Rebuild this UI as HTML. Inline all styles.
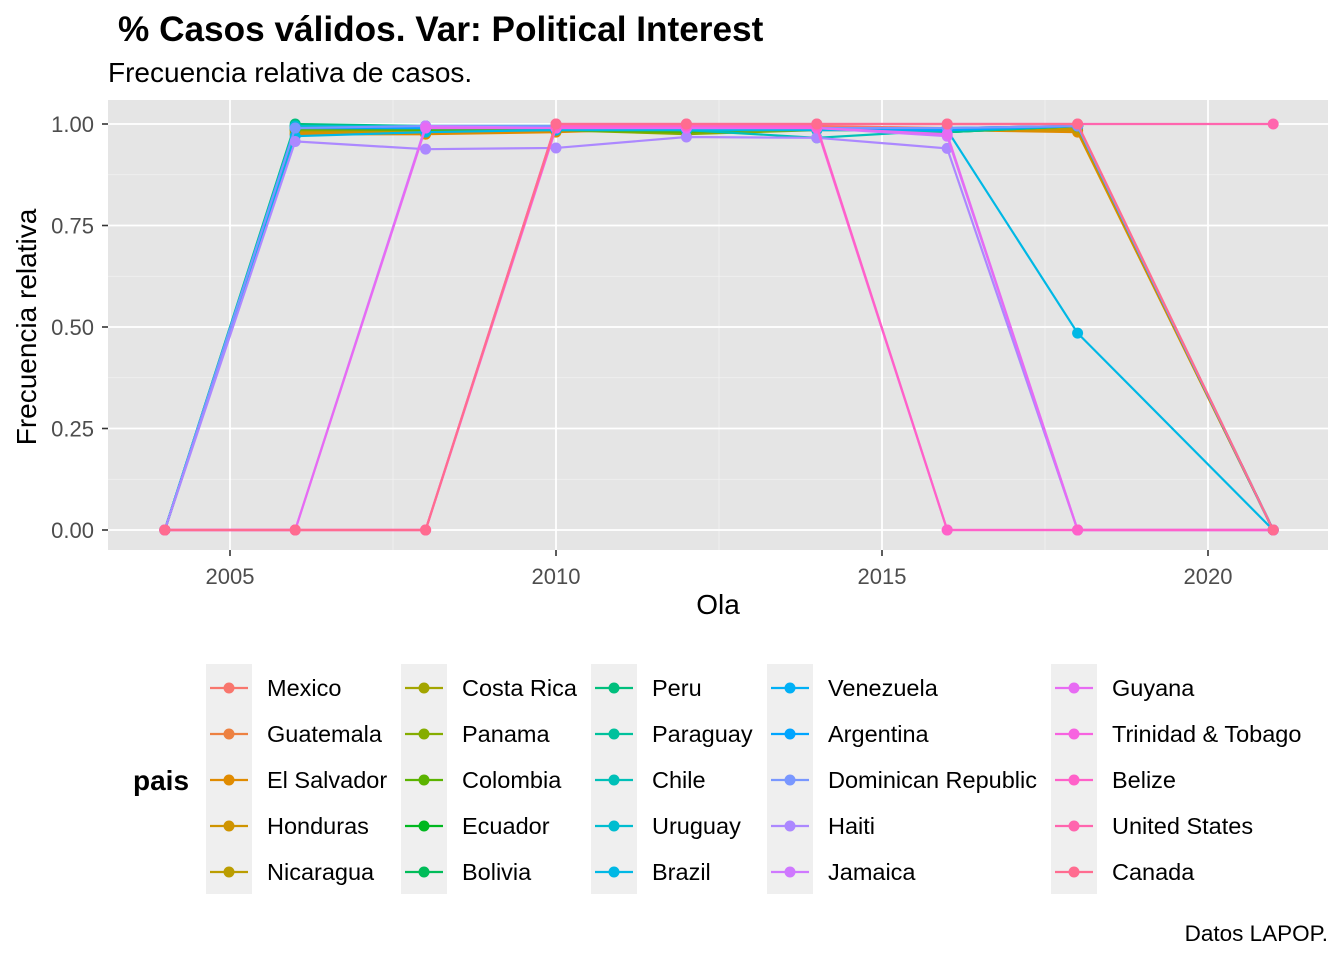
<!DOCTYPE html>
<html><head><meta charset="utf-8"><style>
body{margin:0;background:#fff;font-family:"Liberation Sans",Arial,sans-serif}
svg text{font-family:"Liberation Sans",Arial,sans-serif}
</style></head><body>
<svg id="chart" width="1344" height="960" viewBox="0 0 1344 960" xmlns="http://www.w3.org/2000/svg">
<text x="118" y="41" font-size="35.2" font-weight="bold" fill="#000">% Casos válidos. Var: Political Interest</text>
<text x="108" y="82" font-size="28" fill="#000">Frecuencia relativa de casos.</text>
<rect x="108" y="100" width="1220" height="450" fill="#e5e5e5"/>
<g id="grid"></g><g id="series"></g><g id="axes"></g><g id="legend"></g>
<text x="718" y="614" font-size="28" text-anchor="middle" fill="#000">Ola</text>
<text transform="translate(36,327) rotate(-90)" font-size="28" text-anchor="middle" fill="#000">Frecuencia relativa</text>
<text x="1328" y="941" font-size="22.5" text-anchor="end" fill="#000">Datos LAPOP.</text>
</svg>
<script>
const years=[2004,2006,2008,2010,2012,2014,2016,2018,2021];
const countries=["Mexico","Guatemala","El Salvador","Honduras","Nicaragua","Costa Rica","Panama","Colombia","Ecuador","Bolivia","Peru","Paraguay","Chile","Uruguay","Brazil","Venezuela","Argentina","Dominican Republic","Haiti","Jamaica","Guyana","Trinidad & Tobago","Belize","United States","Canada"];
const mexico=[0,0.99,0.99,0.995,0.995,0.995,0.99,0.995,0];
const guatemala=[0,0.975,0.975,0.985,0.99,0.99,0.985,0.985,0];
const elSalvador=[0,0.975,0.975,0.98,0.99,0.99,0.985,0.98,0];
const honduras=[0,0.98,0.98,0.985,0.99,0.99,0.985,0.985,0];
const nicaragua=[0,0.985,0.985,0.99,0.99,0.99,0.985,0.99,0];
const costaRica=[0,0.99,0.99,0.99,0.99,0.99,0.985,0.995,0];
const panama=[0,0.985,0.985,0.985,0.975,0.985,0.985,0.995,0];
const colombia=[0,0.99,0.985,0.985,0.98,0.99,0.98,0.995,0];
const ecuador=[0,0.99,0.99,0.99,0.99,0.99,0.985,0.995,0];
const bolivia=[0,0.995,0.99,0.995,0.99,0.99,0.98,0.995,0];
const peru=[0,1.0,0.995,0.995,0.99,0.99,0.985,0.995,0];
const paraguay=[0,0.995,0.99,0.99,0.985,0.99,0.98,0.995,0];
const chile=[0,0.99,0.99,0.99,0.985,0.966,0.985,0.995,0];
const uruguay=[0,0.995,0.995,0.995,0.99,0.99,0.99,0.995,0];
const brazil=[0,0.97,0.98,0.985,0.985,0.985,0.985,0.485,0];
const venezuela=[0,0.99,0.99,0.99,0.99,0.99,0.99,0.995,0];
const argentina=[0,0.99,0.99,0.99,0.99,0.99,0.985,0.995,0];
const dominican=[0,0.99,0.995,0.995,0.99,0.99,0.99,0.995,0];
const haiti=[0,0.957,0.938,0.941,0.968,0.966,0.94,0,0];
const jamaica=[0,0,0.995,0.99,0.99,0.99,0.97,0,0];
const guyana=[0,0,0.99,0.99,0.99,0.99,0.975,0,0];
const trinidad=[0,0,0,0.99,0.995,0.99,0,0,0];
const belize=[0,0,0,0.995,0.995,0.995,0,0,0];
const unitedStates=[0,0,0,1.0,1.0,1.0,1.0,1.0,1.0];
const canada=[0,0,0,1.0,1.0,1.0,1.0,1.0,0];
const seriesValues=[mexico,guatemala,elSalvador,honduras,nicaragua,costaRica,panama,colombia,ecuador,bolivia,peru,paraguay,chile,uruguay,brazil,venezuela,argentina,dominican,haiti,jamaica,guyana,trinidad,belize,unitedStates,canada];
const xTicks=[2005,2010,2015,2020];
const yTicks=[0,0.25,0.5,0.75,1.0];
const yTickLabels=["0.00","0.25","0.50","0.75","1.00"];

const NS="http://www.w3.org/2000/svg";
const X=v=>230+(v-2005)*65.2;
const Y=v=>530-v*406;
function mk(tag,attrs,parent){const e=document.createElementNS(NS,tag);for(const k in attrs)e.setAttribute(k,attrs[k]);parent.appendChild(e);return e;}
function hcl(h){const L=65,C=100,hr=h*Math.PI/180;const u=C*Math.cos(hr),v=C*Math.sin(hr);
const Xn=95.047,Yn=100,Zn=108.883;const Yv=Yn*Math.pow((L+16)/116,3);
const un=4*Xn/(Xn+15*Yn+3*Zn),vn=9*Yn/(Xn+15*Yn+3*Zn);
const up=u/(13*L)+un,vp=v/(13*L)+vn;const Xv=Yv*9*up/(4*vp),Zv=Yv*(12-3*up-20*vp)/(4*vp);
const x=Xv/100,y=Yv/100,z=Zv/100;
let r=3.2404542*x-1.5371385*y-0.4985314*z,g=-0.9692660*x+1.8760108*y+0.0415560*z,b=0.0556434*x-0.2040259*y+1.0572252*z;
const gm=c=>{c=c<=0.0031308?12.92*c:1.055*Math.pow(c,1/2.4)-0.055;return Math.round(Math.max(0,Math.min(1,c))*255);};
return `rgb(${gm(r)},${gm(g)},${gm(b)})`;}
const colors=countries.map((c,i)=>hcl(15+i*360/25));

const grid=document.getElementById('grid');
[2007.5,2012.5,2017.5].forEach(v=>{const l=mk('line',{x1:X(v),x2:X(v),y1:100,y2:550,stroke:'#f2f2f2','stroke-width':0.8},grid);
});
[0.125,0.375,0.625,0.875].forEach(v=>{const l=mk('line',{x1:108,x2:1328,y1:Y(v),y2:Y(v),stroke:'#f2f2f2','stroke-width':0.8},grid);
});
xTicks.forEach(v=>{const l=mk('line',{x1:X(v),x2:X(v),y1:100,y2:550,stroke:'#fff','stroke-width':1.8},grid);
});
yTicks.forEach(v=>{const l=mk('line',{x1:108,x2:1328,y1:Y(v),y2:Y(v),stroke:'#fff','stroke-width':1.8},grid);
});

const axes=document.getElementById('axes');
xTicks.forEach(v=>{const t=mk('line',{x1:X(v),x2:X(v),y1:550,y2:556,stroke:'#333','stroke-width':1.6},axes);

const tx=mk('text',{x:X(v),y:584,'font-size':22,'text-anchor':'middle',fill:'#4d4d4d'},axes);tx.textContent=v;
});
yTicks.forEach((v,i)=>{const t=mk('line',{x1:102,x2:108,y1:Y(v),y2:Y(v),stroke:'#333','stroke-width':1.6},axes);

const tx=mk('text',{x:94,y:Y(v)+8,'font-size':22,'text-anchor':'end',fill:'#4d4d4d'},axes);tx.textContent=yTickLabels[i];
});

const sg=document.getElementById('series');
seriesValues.forEach((vals,i)=>{const g=mk('g',{},sg);


const pts=vals.map((v,j)=>X(years[j])+','+Y(v)).join(' ');
const pl=mk('polyline',{points:pts,fill:'none',stroke:colors[i],'stroke-width':2.2},g);

vals.forEach((v,j)=>{const c=mk('circle',{cx:X(years[j]),cy:Y(v),r:5.5,fill:colors[i]},g);
});});

const lg=document.getElementById('legend');
const lt=mk('text',{x:133,y:790,'font-size':28,'font-weight':'bold',fill:'#000'},lg);lt.textContent='pais';

const colX=[206,401,591,767,1051];
for(let c=0;c<5;c++){const bg=mk('rect',{x:colX[c],y:664,width:46,height:230,fill:'#efefef'},lg);
}
countries.forEach((n,i)=>{const c=Math.floor(i/5),r=i%5;const x=colX[c],y=688+r*46;
const g=mk('g',{},lg);
mk('line',{x1:x+4,x2:x+42,y1:y,y2:y,stroke:colors[i],'stroke-width':2.2},g);
mk('circle',{cx:x+23,cy:y,r:5.5,fill:colors[i]},g);
const t=mk('text',{x:x+61,y:y+8,'font-size':23.5,fill:'#000'},g);t.textContent=n;});
</script>
</body></html>
